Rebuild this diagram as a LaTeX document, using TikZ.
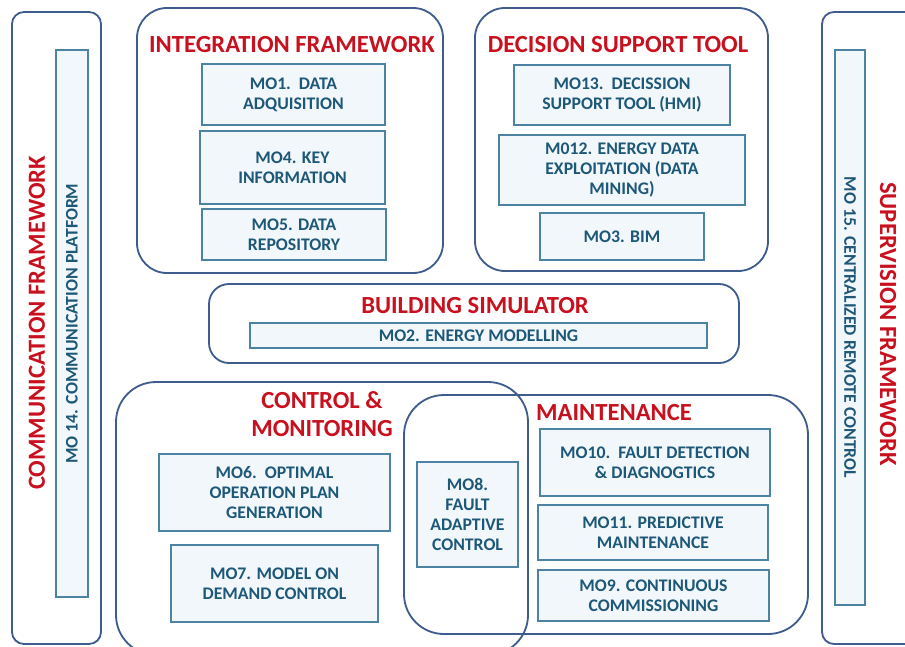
\documentclass[tikz,border=0pt]{standalone}
\usepackage{fontspec}
\setmainfont{Carlito}
\definecolor{hdred}{HTML}{C8101E}
\definecolor{modtxt}{HTML}{1E5878}
\definecolor{grpline}{HTML}{3E5C8C}
\definecolor{modline}{HTML}{4C82A2}
\definecolor{modfill}{HTML}{F2F7FB}
\tikzset{
  group/.style={draw=grpline, line width=1.3pt, rounded corners=7.5mm},
  module/.style={draw=modline, line width=0.9pt, fill=modfill, align=center,
    text=modtxt, font=\fontsize{12.6}{14.4}\selectfont\bfseries, inner sep=0pt},
  heading/.style={text=hdred, align=center, font=\fontsize{17.5}{20}\selectfont\bfseries}
}
\begin{document}
\begin{tikzpicture}[x=0.25mm, y=-0.25mm]
 \useasboundingbox (0,0) rectangle (905,646);
 % frameworks
 \draw [group, rounded corners=3mm] (12,12) rectangle (101,644);
 \draw [group, rounded corners=3mm] (822,12) rectangle (930,644);
 \draw [group] (137,8) rectangle (443,273);
 \draw [group] (475,8) rectangle (768,271);
 \draw [group, rounded corners=5mm] (209,284) rectangle (739,363);
 \draw [group, rounded corners=10mm] (116,382) rectangle (528,655);
 \draw [group, rounded corners=10mm] (404,395) rectangle (808,634);
 % titles
 \node [heading] (intg) at (292,45) {INTEGRATION FRAMEWORK};
 \node [heading] (dst) at (618,45) {DECISION SUPPORT TOOL};
 \node [heading] (bsim) at (475,306) {BUILDING SIMULATOR};
 \node [heading] (ctrl) at (322,414) {CONTROL \&\\MONITORING};
 \node [heading] (mnt) at (614,413) {MAINTENANCE};
 \node [heading, rotate=90] (comm) at (37,323) {COMMUNICATION FRAMEWORK};
 \node [heading, rotate=-90] (sup) at (888,324) {SUPERVISION FRAMEWORK};
 % modules
 \node [module, minimum width=45.75mm, minimum height=15.25mm] (mo1) at (293.5,94.5) {MO1.\ \ DATA\\ADQUISITION};
 \node [module, minimum width=46.25mm, minimum height=18.25mm] (mo4) at (292.5,167.5) {MO4. KEY\\INFORMATION};
 \node [module, minimum width=46mm, minimum height=12.75mm] (mo5) at (294,234.5) {MO5. DATA\\REPOSITORY};
 \node [module, minimum width=54mm, minimum height=15mm] (mo13) at (622,95) {MO13.\ \ DECISSION\\SUPPORT TOOL (HMI)};
 \node [module, minimum width=61.5mm, minimum height=17.5mm] (mo12) at (622,170) {M012. ENERGY DATA\\EXPLOITATION (DATA\\MINING)};
 \node [module, minimum width=41mm, minimum height=11.75mm] (mo3) at (622,236.5) {MO3. BIM};
 \node [module, minimum width=114.25mm, minimum height=6.25mm] (mo2) at (478.5,335.5) {MO2. ENERGY MODELLING};
 \node [module, minimum width=57.75mm, minimum height=19.25mm] (mo6) at (274.5,492.5) {MO6.\ \ OPTIMAL\\OPERATION PLAN\\GENERATION};
 \node [module, minimum width=51.75mm, minimum height=19.25mm] (mo7) at (274.5,583.5) {MO7. MODEL ON\\DEMAND CONTROL};
 \node [module, minimum width=25.25mm, minimum height=26.25mm] (mo8) at (467.5,514.5) {MO8.\\FAULT\\ADAPTIVE\\CONTROL};
 \node [module, minimum width=57.5mm, minimum height=16.75mm] (mo10) at (655,462.5) {MO10.\ \ FAULT DETECTION\\\& DIAGNOGTICS};
 \node [module, minimum width=57.5mm, minimum height=13.75mm] (mo11) at (653,532.5) {MO11. PREDICTIVE\\MAINTENANCE};
 \node [module, minimum width=57.75mm, minimum height=12.75mm] (mo9) at (653.5,595.5) {MO9. CONTINUOUS\\COMMISSIONING};
 \node [module, minimum width=136.75mm, minimum height=8mm, rotate=90] (mo14) at (72,323.5) {MO 14. COMMUNICATION PLATFORM};
 \node [module, minimum width=138.75mm, minimum height=7.5mm, rotate=-90] (mo15) at (850,327.5) {MO 15. CENTRALIZED REMOTE CONTROL};
\end{tikzpicture}
\end{document}
